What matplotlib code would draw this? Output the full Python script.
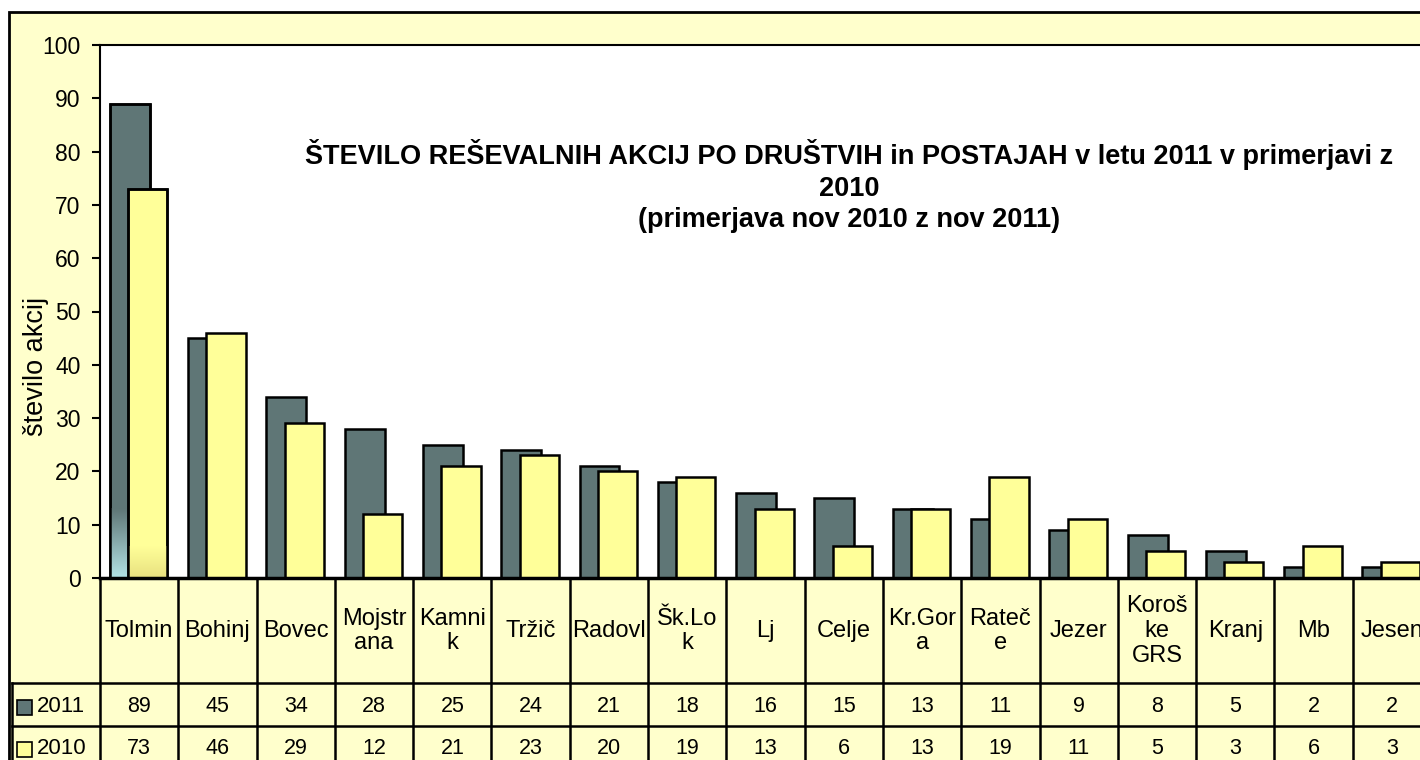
import numpy as np
import matplotlib
matplotlib.use("Agg")
import matplotlib.pyplot as plt
from matplotlib.patches import Rectangle
from matplotlib.transforms import blended_transform_factory

plt.rcParams['font.family'] = ['Liberation Sans', 'DejaVu Sans']

# data
labels = ['Tolmin', 'Bohinj', 'Bovec', 'Mojstr\nana', 'Kamni\nk', 'Tržič', 'Radovl',
          'Šk.Lo\nk', 'Lj', 'Celje', 'Kr.Gor\na', 'Rateč\ne', 'Jezer', 'Koroš\nke\nGRS',
          'Kranj', 'Mb', 'Jesen']
akcije_2011 = [89, 45, 34, 28, 25, 24, 21, 18, 16, 15, 13, 11, 9, 8, 5, 2, 2]
akcije_2010 = [73, 46, 29, 12, 21, 23, 20, 19, 13, 6, 13, 19, 11, 5, 3, 6, 3]
series = ['2011', '2010']
yticks = [0, 10, 20, 30, 40, 50, 60, 70, 80, 90, 100]

DARK = '#5f7676'
YELLOW = '#ffff99'
BG = '#ffffcc'
FS_NUM = 15.5
FS_CAT = 17

W, H = 1420, 760
fig = plt.figure(figsize=(W / 100, H / 100), dpi=100, facecolor='white')


def fx(x):
    return x / W


def fy(y):
    return 1 - y / H


# outer chart frame (yellow), runs off the right/bottom edge
fig.patches.append(Rectangle((fx(9), fy(800)), 1.2, fy(12) - fy(800), transform=fig.transFigure,
                             facecolor=BG, edgecolor='black', linewidth=2, zorder=-10))

ax = fig.add_axes([fx(100), fy(578), fx(1331), fy(45) - fy(578)])
ax.set_facecolor('white')
n = len(labels)
x = np.arange(n)
ax.set_xlim(-0.5, n - 0.5)
ax.set_ylim(0, 100)

b1 = ax.bar(x - 0.12, akcije_2011, width=0.51, color=DARK, edgecolor='black', linewidth=1.8, zorder=2)
b2 = ax.bar(x + 0.11, akcije_2010, width=0.50, color=YELLOW, edgecolor='black', linewidth=1.8, zorder=3)

# Excel gradient left at the foot of the Tolmin bars
for bar, c_top, c_bot, h in [(b1[0], (0x5f / 255, 0x76 / 255, 0x76 / 255), (0.70, 0.89, 0.90), 13),
                             (b2[0], (1.0, 1.0, 0.6), (0.91, 0.88, 0.50), 6)]:
    x0, w = bar.get_x(), bar.get_width()
    t = np.linspace(0, 1, 64)[:, None, None]
    img = np.array(c_bot)[None, None, :] * (1 - t) + np.array(c_top)[None, None, :] * t
    im = ax.imshow(img, extent=(x0, x0 + w, 0, h), origin='lower', aspect='auto',
                   zorder=bar.get_zorder() + 0.1)
    im.set_clip_path(bar)
    # redraw the outline on top of the gradient
    ax.add_patch(Rectangle((x0, 0), w, bar.get_height(), fill=False, edgecolor='black',
                           linewidth=1.8, zorder=bar.get_zorder() + 0.2))

ax.set_yticks(yticks)
ax.tick_params(axis='y', direction='out', length=6, width=1.5, labelsize=16.5, pad=8)
ax.set_xticks([])
for s in ax.spines.values():
    s.set_linewidth(1.5)
ax.spines['bottom'].set_linewidth(2.5)
ax.spines['bottom'].set_zorder(5)

# y label sits a bit below the axis middle in the original
fig.text(fx(36), fy(366), 'število akcij', rotation=90, ha='center', va='center', fontsize=19.5)

# title inside the plot area
title_lines = ['ŠTEVILO REŠEVALNIH AKCIJ PO DRUŠTVIH in POSTAJAH v letu 2011 v primerjavi z',
               '2010', '(primerjava nov 2010 z nov 2011)']
for line, yb in zip(title_lines, [164, 196, 227]):
    fig.text(fx(849), fy(yb), line, ha='center', va='baseline', fontsize=19.5, fontweight='bold')

# data table under the axis
tr = blended_transform_factory(ax.transData, fig.transFigure)
edges = np.arange(n + 1) - 0.5
for e in edges:
    ax.plot([e, e], [fy(578), fy(800)], color='black', lw=1.8, transform=tr, clip_on=False)
for yl in [683, 726]:
    fig.lines.append(plt.Line2D([fx(12), 1.2], [fy(yl), fy(yl)], color='black', lw=1.8,
                                transform=fig.transFigure))
fig.lines.append(plt.Line2D([fx(12), fx(12)], [fy(683), fy(800)], color='black', lw=1.8,
                            transform=fig.transFigure))

for i, lab in enumerate(labels):
    ax.text(i, fy(631), lab, transform=tr, ha='center', va='center', fontsize=FS_CAT,
            linespacing=1.15, clip_on=False)
    ax.text(i, fy(706), str(akcije_2011[i]), transform=tr, ha='center', va='center', fontsize=FS_NUM)
    ax.text(i, fy(748), str(akcije_2010[i]), transform=tr, ha='center', va='center', fontsize=FS_NUM)

for name, col, yc in [(series[0], DARK, 707), (series[1], YELLOW, 749)]:
    fig.patches.append(Rectangle((fx(17), fy(yc + 7.5)), fx(15), fy(yc - 7.5) - fy(yc + 7.5),
                                 transform=fig.transFigure, facecolor=col, edgecolor='black', lw=1.2))
    fig.text(fx(37), fy(yc - 1), name, ha='left', va='center', fontsize=FS_NUM + 0.5)

fig.savefig('out.png', dpi=100, facecolor=fig.get_facecolor())
